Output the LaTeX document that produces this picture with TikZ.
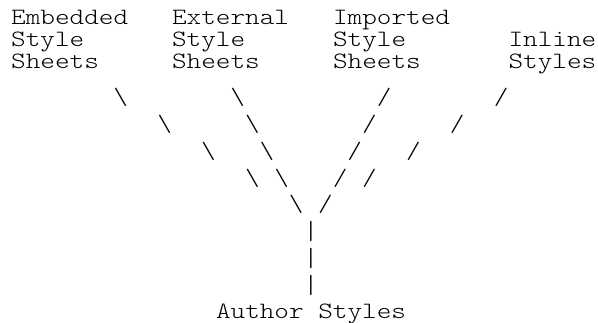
\documentclass[tikz,border=0pt]{standalone}
\usepackage{fontspec}
\setmonofont{Latin Modern Mono Light}
\newcommand{\cx}{11}
\newcommand{\cw}{14.63}
\newcommand{\sxt}[1]{\scalebox{1.19}[1]{#1}}
\newcommand{\sbar}{\scalebox{1.19}[1.12]{|}}
\tikzset{
  txt/.style={anchor=base west, inner sep=0pt, font=\fontsize{23.4}{23.4}\selectfont\ttfamily},
  sl/.style={anchor=center, inner sep=0pt, font=\fontsize{23.4}{23.4}\selectfont\ttfamily},
}
\begin{document}
\begin{tikzpicture}[x=1pt,y=-1pt]
\useasboundingbox (0,0) rectangle (598,323);
% labels
\node[txt] (t1a) at ({\cx+\cw*0},25) {\sxt{Embedded}};
\node[txt] (t1b) at ({\cx+\cw*0},46.7) {\sxt{Style}};
\node[txt] (t1c) at ({\cx+\cw*0},68.3) {\sxt{Sheets}};
\node[txt] (t2a) at ({\cx+\cw*11},25) {\sxt{External}};
\node[txt] (t2b) at ({\cx+\cw*11},46.7) {\sxt{Style}};
\node[txt] (t2c) at ({\cx+\cw*11},68.3) {\sxt{Sheets}};
\node[txt] (t3a) at ({\cx+\cw*22},25) {\sxt{Imported}};
\node[txt] (t3b) at ({\cx+\cw*22},46.7) {\sxt{Style}};
\node[txt] (t3c) at ({\cx+\cw*22},68.3) {\sxt{Sheets}};
\node[txt] (t4b) at ({\cx+\cw*34},46.7) {\sxt{Inline}};
\node[txt] (t4c) at ({\cx+\cw*34},68.3) {\sxt{Styles}};
\node[txt] (auth) at ({\cx+\cw*14},319) {\sxt{Author Styles}};
% row 4
\node[sl] (r4a) at ({\cx+\cw*7.5},97.5) {\sxt{\textbackslash}};
\node[sl] (r4b) at ({\cx+\cw*15.5},97.5) {\sxt{\textbackslash}};
\node[sl] (r4c) at ({\cx+\cw*25.5},97.5) {\sxt{/}};
\node[sl] (r4d) at ({\cx+\cw*33.5},97.5) {\sxt{/}};
% row 5
\node[sl] (r5a) at ({\cx+\cw*10.5},124.3) {\sxt{\textbackslash}};
\node[sl] (r5b) at ({\cx+\cw*16.5},124.3) {\sxt{\textbackslash}};
\node[sl] (r5c) at ({\cx+\cw*24.5},124.3) {\sxt{/}};
\node[sl] (r5d) at ({\cx+\cw*30.5},124.3) {\sxt{/}};
% row 6
\node[sl] (r6a) at ({\cx+\cw*13.5},151.1) {\sxt{\textbackslash}};
\node[sl] (r6b) at ({\cx+\cw*17.5},151.1) {\sxt{\textbackslash}};
\node[sl] (r6c) at ({\cx+\cw*23.5},151.1) {\sxt{/}};
\node[sl] (r6d) at ({\cx+\cw*27.5},151.1) {\sxt{/}};
% row 7
\node[sl] (r7a) at ({\cx+\cw*16.5},177.9) {\sxt{\textbackslash}};
\node[sl] (r7b) at ({\cx+\cw*18.5},177.9) {\sxt{\textbackslash}};
\node[sl] (r7c) at ({\cx+\cw*22.5},177.9) {\sxt{/}};
\node[sl] (r7d) at ({\cx+\cw*24.5},177.9) {\sxt{/}};
% row 8
\node[sl] (r8a) at ({\cx+\cw*19.5},204.7) {\sxt{\textbackslash}};
\node[sl] (r8b) at ({\cx+\cw*21.5},204.7) {\sxt{/}};
% bars
\node[sl] (b1) at ({\cx+\cw*20.5},231.5) {\sbar};
\node[sl] (b2) at ({\cx+\cw*20.5},258.3) {\sbar};
\node[sl] (b3) at ({\cx+\cw*20.5},285.1) {\sbar};
\end{tikzpicture}
\end{document}
